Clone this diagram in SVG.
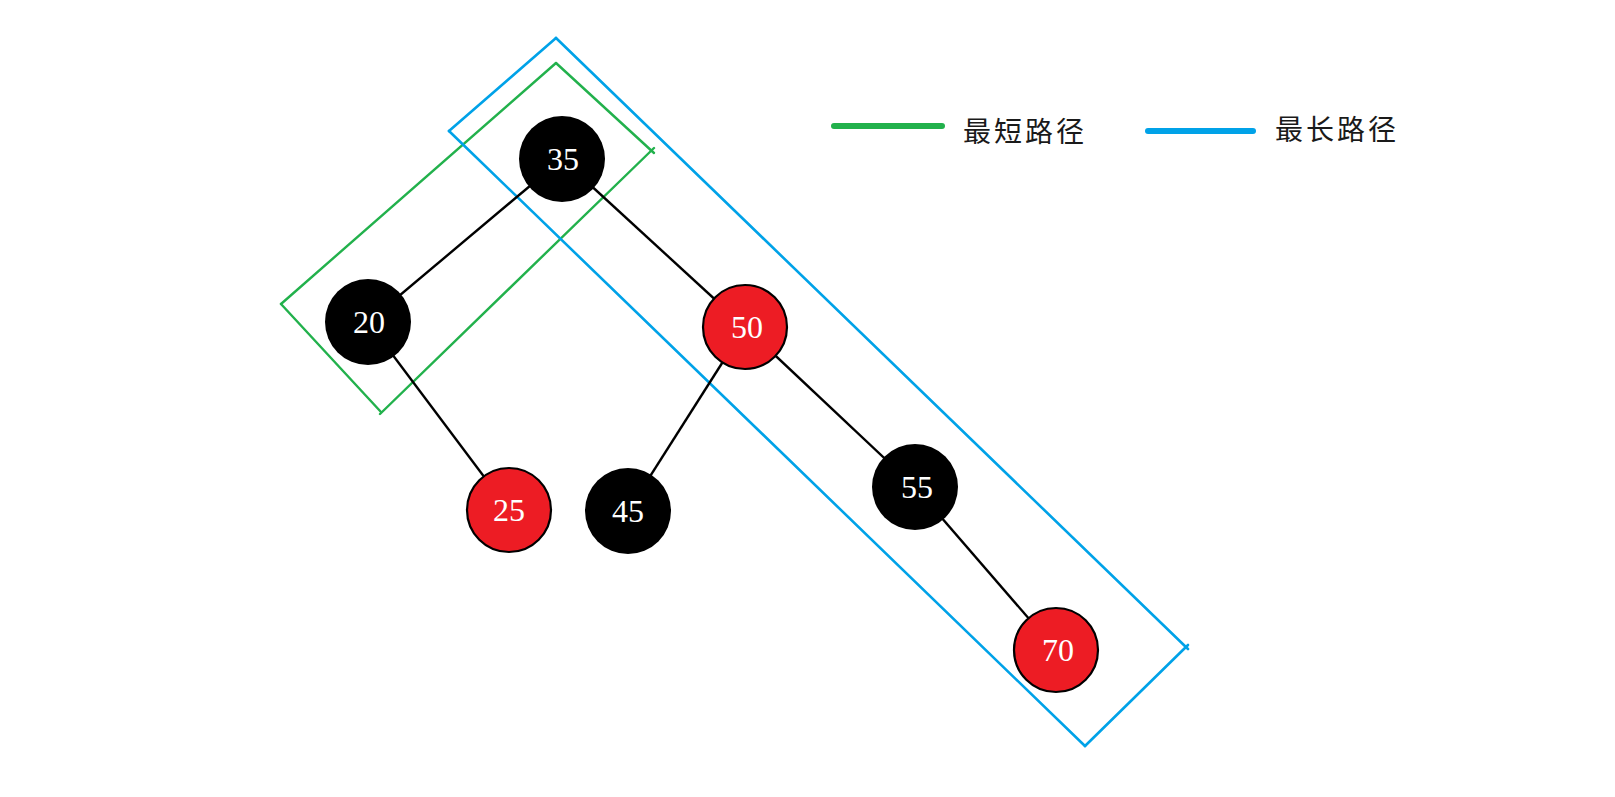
<svg xmlns="http://www.w3.org/2000/svg" width="1615" height="797" viewBox="0 0 1615 797">
<style>
.edge{stroke:#000;stroke-width:2.4;fill:none}
.blk{fill:#000}
.red{fill:#ED1C24;stroke:#000;stroke-width:2.2}
.num{font-family:"Liberation Serif",serif;font-size:32px;fill:#fff;text-anchor:middle}
.g{stroke:#22B14C;stroke-width:2.4;fill:none;stroke-linecap:round}
.b{stroke:#00A2E8;stroke-width:2.6;fill:none;stroke-linecap:round}
.leg{font-family:"Noto Sans CJK SC",sans-serif;font-size:28px;fill:#1a1a1a;letter-spacing:3px}
</style>
<rect width="1615" height="797" fill="#fff"/>
<g id="highlights">
  <g id="shortest-box">
    <line class="g" x1="556" y1="63" x2="281" y2="304"/>
    <line class="g" x1="556" y1="63" x2="654" y2="153"/>
    <line class="g" x1="281" y1="304" x2="381" y2="412"/>
    <line class="g" x1="654" y1="148" x2="380" y2="414"/>
  </g>
  <g id="longest-box">
    <line class="b" x1="556" y1="38" x2="449" y2="131"/>
    <line class="b" x1="556" y1="38" x2="1188" y2="649"/>
    <line class="b" x1="449" y1="131" x2="1085" y2="746"/>
    <line class="b" x1="1188" y1="645" x2="1085" y2="746" stroke-width="5"/>
  </g>
</g>
<g id="connectors">
  <line class="edge" x1="562" y1="159" x2="368" y2="322"/>
  <line class="edge" x1="562" y1="159" x2="745" y2="327"/>
  <line class="edge" x1="368" y1="322" x2="509" y2="510"/>
  <line class="edge" x1="745" y1="327" x2="628" y2="511"/>
  <line class="edge" x1="745" y1="327" x2="915" y2="487"/>
  <line class="edge" x1="915" y1="487" x2="1056" y2="650"/>
</g>
<g id="n35"><circle class="blk" cx="562" cy="159" r="43"/><text class="num" x="563" y="170">35</text></g>
<g id="n20"><circle class="blk" cx="368" cy="322" r="43"/><text class="num" x="369" y="333">20</text></g>
<g id="n50"><circle class="red" cx="745" cy="327" r="42"/><text class="num" x="747" y="338">50</text></g>
<g id="n25"><circle class="red" cx="509" cy="510" r="42"/><text class="num" x="509" y="521">25</text></g>
<g id="n45"><circle class="blk" cx="628" cy="511" r="43"/><text class="num" x="628" y="522">45</text></g>
<g id="n55"><circle class="blk" cx="915" cy="487" r="43"/><text class="num" x="917" y="498">55</text></g>
<g id="n70"><circle class="red" cx="1056" cy="650" r="42"/><text class="num" x="1058" y="661">70</text></g>
<g id="legend">
  <line x1="834" y1="126" x2="942" y2="126" stroke="#22B14C" stroke-width="6" stroke-linecap="round"/>
  <text class="leg" x="963" y="142">最短路径</text>
  <line x1="1148" y1="131" x2="1253" y2="131" stroke="#00A2E8" stroke-width="6" stroke-linecap="round"/>
  <text class="leg" x="1275" y="140">最长路径</text>
</g>
</svg>
